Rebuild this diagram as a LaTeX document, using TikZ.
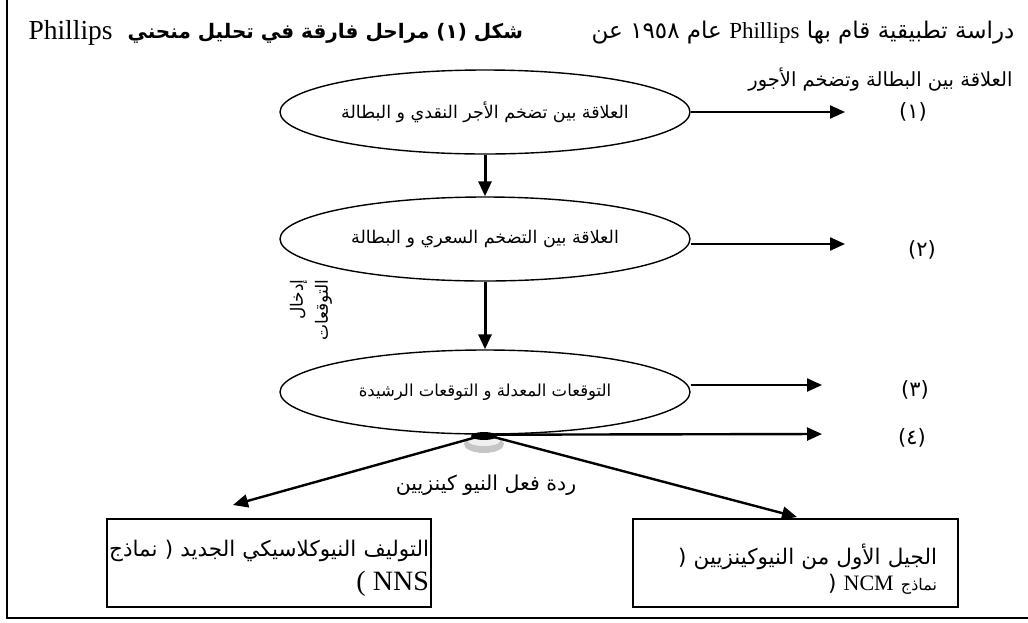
\documentclass[tikz,border=0pt]{standalone}
\usepackage{fontspec}
\setmainfont{Liberation Serif}
\newfontfamily\arabicfont[Script=Arabic]{DejaVu Sans}
\TeXXeTstate=1
\usetikzlibrary{shapes.geometric,arrows.meta}
\newcommand{\artext}[1]{{\arabicfont\beginR #1\endR}}

\tikzset{
  stage/.style={draw, ellipse, line width=1.4pt, minimum width=410pt, minimum height=84pt, inner sep=0pt, font=\fontsize{17.5}{20}\selectfont},
  modelbox/.style={draw, rectangle, line width=1.4pt, minimum height=88pt},
  boxtext/.style={align=right, inner sep=0pt},
  flow/.style={line width=2.4pt, -{Triangle[length=15pt,width=13pt]}},
  num/.style={font=\fontsize{21}{24}\selectfont\arabicfont},
}

\begin{document}
\begin{tikzpicture}[x=1pt,y=-1pt]
\useasboundingbox (0,0) rectangle (1028,622);
\draw[line width=1.2pt] (7,0) -- (7,618) -- (1028,618);

\node[font=\fontsize{27.5}{30}\selectfont, anchor=west] (title) at (25,33) {Phillips};
\node[font=\fontsize{20}{24}\selectfont\bfseries, anchor=west] (caption) at (124,33) {\artext{شكل (١) مراحل فارقة في تحليل منحني}};
\node[font=\fontsize{23}{26}\selectfont, anchor=east] (note) at (1018,33) {\artext{دراسة تطبيقية قام بها {\rmfamily Phillips} عام ١٩٥٨ عن}};
\node[font=\fontsize{19.5}{22}\selectfont, anchor=east] (note2) at (1016,80) {\artext{العلاقة بين البطالة وتضخم الأجور}};

\node[stage] (wage) at (485,112) {\artext{العلاقة بين تضخم الأجر النقدي و البطالة}};
\node[stage] (price) at (485,239) {\artext{العلاقة بين التضخم السعري و البطالة}};
\node[stage, font=\fontsize{16.5}{20}\selectfont] (expect) at (485,392) {\artext{التوقعات المعدلة  و  التوقعات الرشيدة}};

\node[num] (n1) at (913,112) {(١)};
\node[num] (n2) at (922,250) {(٢)};
\node[num] (n3) at (915,390) {(٣)};
\node[num] (n4) at (912,438) {(٤)};

\node[rotate=90, align=right, font=\fontsize{17}{25}\selectfont] (intro) at (311,310) {\artext{إدخال}\\\artext{التوقعات}};
\node[font=\fontsize{20.5}{24}\selectfont] (react) at (486,485) {\artext{ردة فعل النيو كينزيين}};

\node[modelbox, minimum width=324pt] (nns) at (269,563) {};
\node[boxtext, text width=320pt, font=\fontsize{21.5}{24}\selectfont] (nnstext) at ([yshift=-5pt]nns.center) {\artext{التوليف النيوكلاسيكي الجديد ( نماذج}\\[8pt]{\fontsize{28}{28}\selectfont ( NNS}};
\node[modelbox, minimum width=325pt] (ncm) at (795.5,563) {};
\node[boxtext, text width=283pt, font=\fontsize{21.5}{26}\selectfont] (ncmtext) at ([yshift=-6pt]ncm.center) {\artext{الجيل الأول من النيوكينزيين (}\\\artext{{\fontsize{16}{20}\selectfont نماذج} {\rmfamily\fontsize{22}{20}\selectfont NCM} (}};

\coordinate (t1) at (845,112);
\coordinate (t2) at (845,244);
\coordinate (t3) at (822,385);
\coordinate (t4) at (822,434);
\coordinate (tl) at (233,505);
\coordinate (tr) at (797,517);

\fill[gray!45] (484,444) ellipse [x radius=20pt, y radius=9pt];
\fill[gray!12] (484,441) ellipse [x radius=16pt, y radius=5pt];

\draw[flow] (wage.east) -- (t1);
\draw[flow] ([yshift=-5pt]price.east) -- (t2);
\draw[flow] ([yshift=7pt]expect.east) -- (t3);
\draw[flow] (expect.south) -- (t4);
\draw[flow, line width=3pt] (wage.south) -- (price.north);
\draw[flow, line width=3pt] (price.south) -- (expect.north);
\draw[flow] (expect.south) -- (tl);
\draw[flow] (expect.south) -- (tr);

\fill (484,436) ellipse [x radius=13pt, y radius=4pt];
\end{tikzpicture}
\end{document}
